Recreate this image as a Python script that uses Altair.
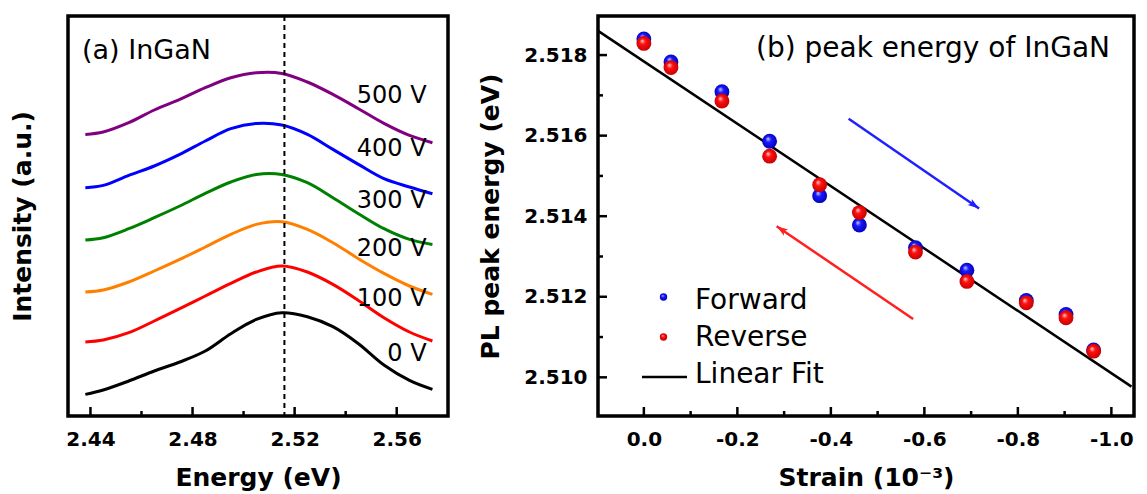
import math
import altair as alt
import pandas as pd

FONT = "DejaVu Sans"

# ---------------- (a) PL spectra of InGaN under bias ----------------
energy = [2.438, 2.445, 2.455, 2.465, 2.475, 2.485, 2.495, 2.505,
          2.515, 2.525, 2.535, 2.545, 2.555, 2.565, 2.574]
voltages = ["0 V", "100 V", "200 V", "300 V", "400 V", "500 V"]
spec_0 = [21.6, 26.0, 35.0, 45.0, 54.0, 65.0, 82.3, 96.6, 103.3, 99.3, 89.3, 72.3, 51.0, 35.6, 26.6]
spec_100 = [74.0, 76.0, 83.3, 95.0, 107.3, 120.0, 132.6, 144.0, 150.0, 144.0, 131.6, 115.6, 98.3, 84.0, 75.0]
spec_200 = [124.0, 126.0, 134.0, 145.0, 156.6, 169.0, 181.6, 191.6, 194.3, 186.6, 173.3, 157.3, 142.6, 130.0, 121.6]
spec_300 = [176.0, 178.3, 187.3, 198.3, 210.0, 222.6, 234.0, 241.6, 241.6, 233.3, 218.3, 202.3, 187.3, 176.6, 171.6]
spec_400 = [228.3, 230.6, 240.6, 250.0, 261.6, 275.0, 287.3, 292.6, 291.0, 281.6, 266.6, 251.6, 237.3, 229.0, 222.3]
spec_500 = [281.6, 284.0, 293.3, 306.0, 316.6, 328.3, 338.3, 343.3, 342.6, 334.0, 321.6, 307.3, 292.6, 280.6, 273.3]
spectra = [spec_0, spec_100, spec_200, spec_300, spec_400, spec_500]
line_colors = ["#000000", "#ff0000", "#ff8000", "#008000", "#0000ff", "#800080"]
label_level = [61.6, 116.6, 166.6, 215.0, 266.6, 320.3]
label_energy = 2.5717
peak_energy = 2.516
energy_major = [2.44, 2.48, 2.52, 2.56]
energy_minor = [2.46, 2.50, 2.54]

# ---------------- (b) peak energy versus strain ----------------
strain = [0.0, -0.058, -0.167, -0.269, -0.376, -0.461, -0.581, -0.691, -0.818, -0.903, -0.962]
e_forward = [2.5184, 2.51783, 2.51709, 2.51586, 2.51451, 2.51378, 2.51322, 2.51266, 2.51191, 2.51156, 2.51068]
e_reverse = [2.51829, 2.51769, 2.51686, 2.51549, 2.51478, 2.51409, 2.51311, 2.51238, 2.51185, 2.51148, 2.51065]
fit_strain = [0.098, -1.043]
fit_energy = [2.5186, 2.50977]
fwd_arrow_strain = [-0.438, -0.717]
fwd_arrow_energy = [2.51642, 2.51419]
rev_arrow_strain = [-0.576, -0.284]
rev_arrow_energy = [2.51145, 2.51375]
strain_major = [0.0, -0.2, -0.4, -0.6, -0.8, -1.0]
strain_minor = [-0.1, -0.3, -0.5, -0.7, -0.9]
peak_major = [2.510, 2.512, 2.514, 2.516, 2.518]
peak_minor = [2.511, 2.513, 2.515, 2.517]

W_A, H_A = 380, 400
W_B, H_B = 536, 400
STRAIN_DOMAIN = [-1.0484, 0.0981]
PEAK_DOMAIN = [2.50904, 2.51897]

# Shared scales and axes (every layer carries the same axis so they merge)
x_a = alt.Scale(domain=[2.4312, 2.5801], nice=False, zero=False)
y_a = alt.Scale(domain=[0, 400], nice=False, zero=False)
ax_energy = alt.Axis(values=energy_major, format=".2f", title="Energy (eV)",
                     ticks=False, domain=False, grid=False, labelPadding=13, titlePadding=16)
ax_intensity = alt.Axis(labels=False, ticks=False, domain=False, grid=False,
                        title="Intensity (a.u.)", titlePadding=33)

x_b = alt.Scale(domain=STRAIN_DOMAIN, reverse=True, nice=False, zero=False)
y_b = alt.Scale(domain=PEAK_DOMAIN, nice=False, zero=False)
ax_strain = alt.Axis(values=strain_major, title="Strain (10⁻³)",
                     labelExpr="datum.value == 0 ? '0.0' : '-' + format(abs(datum.value), '.1f')",
                     ticks=False, domain=False, grid=False, labelPadding=13, titlePadding=16)
ax_peak = alt.Axis(values=peak_major, format=".3f", title="PL peak energy (eV)",
                   ticks=False, domain=False, grid=False, labelPadding=11, titlePadding=20)


def EX(field):
    return alt.X(field, scale=x_a, axis=ax_energy)


def IY(field):
    return alt.Y(field, scale=y_a, axis=ax_intensity)


def SX(field):
    return alt.X(field, scale=x_b, axis=ax_strain)


def PY(field):
    return alt.Y(field, scale=y_b, axis=ax_peak)


# ---------- panel (a) ----------
rows = []
for v, vals in zip(voltages, spectra):
    for e, i in zip(energy, vals):
        rows.append({"energy": e, "intensity": i, "bias": v})
spec_df = pd.DataFrame(rows)

curves = alt.Chart(spec_df).mark_line(strokeWidth=3, interpolate="catmull-rom").encode(
    x=EX("energy:Q"),
    y=IY("intensity:Q"),
    color=alt.Color("bias:N", scale=alt.Scale(domain=voltages, range=line_colors), legend=None),
)

peak_rule = alt.Chart(pd.DataFrame({"e": [peak_energy]})).mark_rule(
    color="black", strokeWidth=2, strokeDash=[5, 4]
).encode(x=EX("e:Q"))

bias_labels = alt.Chart(pd.DataFrame({"bias": voltages, "lvl": label_level,
                                      "e": [label_energy] * len(voltages)})).mark_text(
    align="right", baseline="middle", font=FONT, fontSize=24, color="black"
).encode(x=EX("e:Q"), y=IY("lvl:Q"), text="bias:N")


def bottom_ticks(values, xenc, length, height):
    return alt.Chart(pd.DataFrame({"v": values})).mark_rule(color="black", strokeWidth=2.5).encode(
        x=xenc("v:Q"), y=alt.value(height), y2=alt.value(height - length),
    )


def left_ticks(values, yenc, length):
    return alt.Chart(pd.DataFrame({"v": values})).mark_rule(color="black", strokeWidth=2.5).encode(
        y=yenc("v:Q"), x=alt.value(0), x2=alt.value(length),
    )


title_a = alt.Chart(pd.DataFrame({"t": ["(a) InGaN"]})).mark_text(
    align="left", baseline="alphabetic", font=FONT, fontSize=27, color="black"
).encode(x=alt.value(14), y=alt.value(43), text="t:N")

panel_a = alt.layer(
    curves, peak_rule, bias_labels,
    bottom_ticks(energy_major, EX, 9, H_A), bottom_ticks(energy_minor, EX, 5, H_A),
    title_a,
).properties(width=W_A, height=H_A)

# ---------- panel (b) ----------
def sphere(base, light, dark):
    return {"gradient": "radial", "x1": 0.38, "y1": 0.32, "r1": 0.0,
            "x2": 0.5, "y2": 0.5, "r2": 0.55,
            "stops": [{"offset": 0.0, "color": light},
                      {"offset": 0.35, "color": base},
                      {"offset": 1.0, "color": dark}]}


RED_BALL = sphere("#ff1010", "#ffd8d8", "#c00000")
BLUE_BALL = sphere("#1a1aff", "#d8d8ff", "#0000b0")

pts = pd.DataFrame({"strain": strain, "fwd": e_forward, "rev": e_reverse})

fwd_pts = alt.Chart(pts).mark_point(shape="circle", filled=True, size=220, fill=BLUE_BALL,
                                    strokeWidth=0, opacity=1).encode(x=SX("strain:Q"), y=PY("fwd:Q"))
rev_pts = alt.Chart(pts).mark_point(shape="circle", filled=True, size=220, fill=RED_BALL,
                                    strokeWidth=0, opacity=1).encode(x=SX("strain:Q"), y=PY("rev:Q"))

fit_line = alt.Chart(pd.DataFrame({"s": fit_strain, "e": fit_energy})).mark_line(
    color="black", strokeWidth=2.5
).encode(x=SX("s:Q"), y=PY("e:Q"))

kx = W_B / (STRAIN_DOMAIN[1] - STRAIN_DOMAIN[0])
ky = H_B / (PEAK_DOMAIN[1] - PEAK_DOMAIN[0])


def heading(s, e):
    dx = -(s[1] - s[0]) * kx
    dy = -(e[1] - e[0]) * ky
    return math.degrees(math.atan2(dx, -dy)) % 360


ARROW_HEAD = "M0,0L0.55,1.7L0,1.3L-0.55,1.7Z"


def arrow(s, e, color):
    shaft = alt.Chart(pd.DataFrame({"s": [s[0]], "e": [e[0]], "s2": [s[1]], "e2": [e[1]]})).mark_rule(
        color=color, strokeWidth=2.5
    ).encode(x=SX("s:Q"), y=PY("e:Q"), x2="s2:Q", y2="e2:Q")
    head = alt.Chart(pd.DataFrame({"s": [s[1]], "e": [e[1]]})).mark_point(
        shape=ARROW_HEAD, filled=True, size=180, color=color, opacity=1,
        angle=heading(s, e)
    ).encode(x=SX("s:Q"), y=PY("e:Q"))
    return [shaft, head]


title_b = alt.Chart(pd.DataFrame({"t": ["(b) peak energy of InGaN"]})).mark_text(
    align="center", baseline="alphabetic", font=FONT, fontSize=28, color="black"
).encode(x=alt.value(335), y=alt.value(41), text="t:N")


def legend_text(label, y):
    return alt.Chart(pd.DataFrame({"t": [label]})).mark_text(
        align="left", baseline="alphabetic", font=FONT, fontSize=28, color="black"
    ).encode(x=alt.value(97), y=alt.value(y), text="t:N")


def legend_dot(fill, y):
    return alt.Chart(pd.DataFrame({"k": [0]})).mark_point(
        shape="circle", filled=True, size=55, fill=fill, strokeWidth=0, opacity=1
    ).encode(x=alt.value(65.5), y=alt.value(y))


legend_fit = alt.Chart(pd.DataFrame({"k": [0]})).mark_rule(color="black", strokeWidth=2.5).encode(
    x=alt.value(44), x2=alt.value(89), y=alt.value(361)
)

panel_b = alt.layer(
    fit_line, fwd_pts, rev_pts,
    *arrow(fwd_arrow_strain, fwd_arrow_energy, "#2020ff"),
    *arrow(rev_arrow_strain, rev_arrow_energy, "#ff2020"),
    bottom_ticks(strain_major, SX, 9, H_B), bottom_ticks(strain_minor, SX, 5, H_B),
    left_ticks(peak_major, PY, 9), left_ticks(peak_minor, PY, 5),
    title_b,
    legend_dot(BLUE_BALL, 281), legend_text("Forward", 293),
    legend_dot(RED_BALL, 321), legend_text("Reverse", 330),
    legend_fit, legend_text("Linear Fit", 367),
).properties(width=W_B, height=H_B)

chart = alt.hconcat(panel_a, panel_b, spacing=26).properties(
    padding={"left": 8, "top": 13, "right": 5, "bottom": 0},
    background="white",
).configure_view(
    stroke="black", strokeWidth=3.5
).configure_axis(
    labelFont=FONT, labelFontSize=20, labelFontWeight="bold", labelColor="black",
    titleFont=FONT, titleFontSize=25, titleFontWeight="bold", titleColor="black",
)

chart.save("out.html", embed_options={"renderer": "svg", "actions": False})
